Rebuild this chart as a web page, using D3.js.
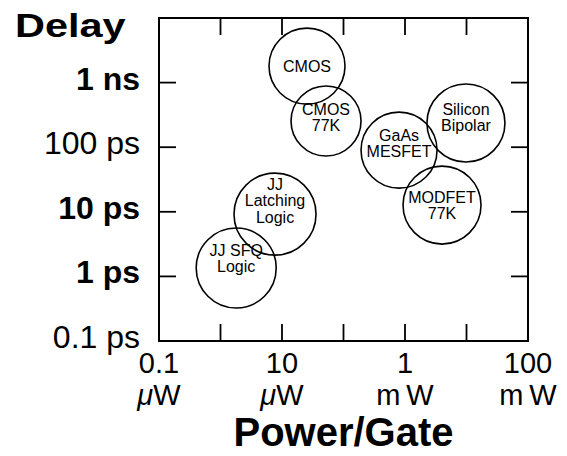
<!DOCTYPE html>
<html>
<head>
<meta charset="utf-8">
<script src="https://cdn.jsdelivr.net/npm/d3@7"></script>
<style>
    body { margin: 0; background: #fff; }
    svg text { font-family: "Liberation Sans", Arial, Helvetica, sans-serif; fill: #000; }
</style>
</head>
<body>
<div id="chart"></div>
<script>
// Technologies, power per gate (uW) and gate delay (ps) at circle centres
const technologies = ['CMOS', 'CMOS 77K', 'GaAs MESFET', 'Silicon Bipolar', 'MODFET 77K', 'JJ Latching Logic', 'JJ SFQ Logic'];
const powerUW = [25.5, 52, 800, 9800, 4000, 7.7, 1.8];
const delayPs = [1800, 254, 90, 237, 12.7, 9.2, 1.35];
const circleLines = [['CMOS'], ['CMOS', '77K'], ['GaAs', 'MESFET'], ['Silicon', 'Bipolar'], ['MODFET', '77K'], ['JJ', 'Latching', 'Logic'], ['JJ SFQ', 'Logic']];

// Axis ticks
const xTicks = [0.1, 1, 10, 100, 1000, 10000, 100000];
const xLabelValues = [0.1, 10, 1000, 100000];
const xLabelNumbers = ['0.1', '10', '1', '100'];
const xLabelUnits = ['W', 'W', 'mW', 'mW'];
const yTicks = [0.1, 1, 10, 100, 1000, 10000];
const yLabelValues = [1000, 100, 10, 1, 0.1];
const yLabels = ['1 ns', '100 ps', '10 ps', '1 ps', '0.1 ps'];

// Styles
const circleRadius = {'CMOS': 38, 'CMOS 77K': 35, 'GaAs MESFET': 38, 'Silicon Bipolar': 39, 'MODFET 77K': 39, 'JJ Latching Logic': 41, 'JJ SFQ Logic': 40};
const labelShift = {'CMOS': 0, 'CMOS 77K': -4, 'GaAs MESFET': -7, 'Silicon Bipolar': -6, 'MODFET 77K': 0, 'JJ Latching Logic': -14, 'JJ SFQ Logic': -10};
const regularYLabels = new Set(['100 ps', '0.1 ps']);

const width = 567, height = 456;
const plot = {left: 159, right: 528, top: 18, bottom: 341};
const tickLen = 17;

const svg = d3.select('#chart').append('svg')
    .attr('width', width)
    .attr('height', height);

const x = d3.scaleLog().domain([0.1, 100000]).range([plot.left, plot.right]);
const y = d3.scaleLog().domain([0.1, 10000]).range([plot.bottom, plot.top]);

// Frame
svg.append('rect')
    .attr('x', plot.left)
    .attr('y', plot.top)
    .attr('width', plot.right - plot.left)
    .attr('height', plot.bottom - plot.top)
    .attr('fill', 'none')
    .attr('stroke', '#000')
    .attr('stroke-width', 2);

// Ticks on all four sides
const ticks = svg.append('g').attr('stroke', '#000').attr('stroke-width', 1.8);
xTicks.forEach(v => {
    ticks.append('line').attr('x1', x(v)).attr('x2', x(v)).attr('y1', plot.bottom).attr('y2', plot.bottom - tickLen);
    ticks.append('line').attr('x1', x(v)).attr('x2', x(v)).attr('y1', plot.top).attr('y2', plot.top + tickLen);
});
yTicks.forEach(v => {
    ticks.append('line').attr('x1', plot.left).attr('x2', plot.left + tickLen).attr('y1', y(v)).attr('y2', y(v));
    ticks.append('line').attr('x1', plot.right).attr('x2', plot.right - tickLen).attr('y1', y(v)).attr('y2', y(v));
});

// X tick labels
xLabelValues.forEach((v, i) => {
    svg.append('text')
        .attr('x', x(v))
        .attr('y', 373)
        .attr('text-anchor', 'middle')
        .style('font-size', '29px')
        .text(xLabelNumbers[i]);
    const unit = svg.append('text')
        .attr('x', x(v))
        .attr('y', 405)
        .attr('text-anchor', 'middle')
        .style('font-size', '29px');
    if (xLabelUnits[i] === 'W') {
        unit.append('tspan').style('font-style', 'italic').text('\u03bc');
        unit.append('tspan').text('W');
    } else {
        unit.text('m\u2009W');
    }
});

// Y tick labels
yLabelValues.forEach((v, i) => {
    svg.append('text')
        .attr('x', 140)
        .attr('y', y(v) + 7)
        .attr('text-anchor', 'end')
        .style('font-size', '32px')
        .style('font-weight', regularYLabels.has(yLabels[i]) ? 'normal' : 'bold')
        .text(yLabels[i]);
});

// Axis titles
svg.append('text')
    .attr('transform', 'translate(15,37) scale(1.22,1)')
    .style('font-size', '34px')
    .style('font-weight', 'bold')
    .text('Delay');

svg.append('text')
    .attr('x', (plot.left + plot.right) / 2)
    .attr('y', 446)
    .attr('text-anchor', 'middle')
    .style('font-size', '40px')
    .style('font-weight', 'bold')
    .text('Power/Gate');

// Technology circles
const groups = svg.selectAll('g.tech')
    .data(technologies)
    .enter()
    .append('g')
    .attr('class', 'tech')
    .attr('transform', (d, i) => `translate(${x(powerUW[i])},${y(delayPs[i])})`);

groups.append('circle')
    .attr('r', d => circleRadius[d])
    .attr('fill', 'none')
    .attr('stroke', '#000')
    .attr('stroke-width', 1.6);

groups.each(function(d, i) {
    const lines = circleLines[i];
    const pitch = 16.5;
    const top = labelShift[d] - (lines.length - 1) * pitch / 2;
    const t = d3.select(this).append('text')
        .attr('text-anchor', 'middle')
        .style('font-size', '16px');
    lines.forEach((line, k) => {
        t.append('tspan')
            .attr('x', 0)
            .attr('y', top + k * pitch + 6)
            .text(line);
    });
});
</script>
</body>
</html>
